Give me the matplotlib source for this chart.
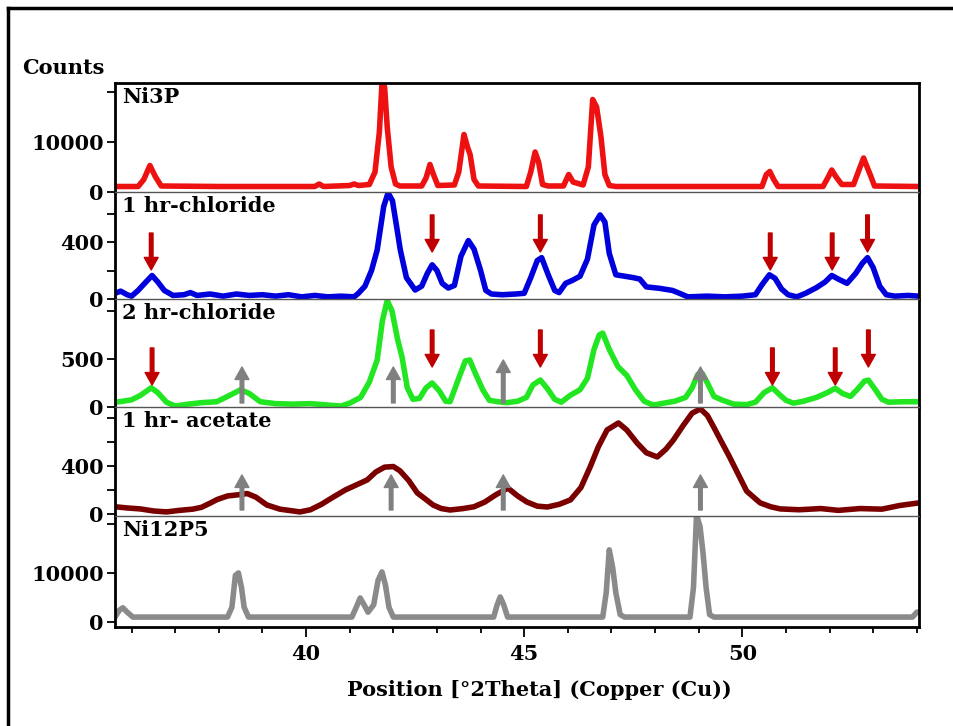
import matplotlib.pyplot as plt
from matplotlib.lines import Line2D

# --- data (2theta, counts) ---
ni3p_x = [35.62, 36.15, 36.28, 36.42, 36.55, 36.68, 38.0, 40.2, 40.3, 40.4, 41.0, 41.1, 41.2,
          41.45, 41.58, 41.68, 41.74, 41.8, 41.86, 41.95, 42.05, 42.15, 42.65, 42.75, 42.84,
          42.92, 43.02, 43.4, 43.5, 43.62, 43.7, 43.76, 43.85, 43.95, 45.05, 45.15, 45.25,
          45.33, 45.42, 45.55, 45.9, 46.02, 46.12, 46.35, 46.47, 46.57, 46.66, 46.76, 46.85,
          46.95, 47.1, 50.45, 50.55, 50.63, 50.72, 50.82, 51.85, 51.97, 52.05, 52.15, 52.28,
          52.55, 52.7, 52.78, 52.86, 52.93, 53.03, 54.05]
ni3p_y = [1100, 1100, 2500, 5300, 3000, 1200, 1100, 1100, 1600, 1100, 1300, 1600, 1300,
          1500, 4000, 12000, 21800, 21000, 13000, 5000, 1600, 1200, 1200, 2800, 5500,
          3500, 1300, 1400, 4000, 11500, 9000, 7500, 2500, 1200, 1100, 4000, 8000,
          6000, 1500, 1200, 1200, 3500, 2000, 1400, 5000, 18500, 17000, 11000, 3500,
          1300, 1100, 1100, 3500, 4100, 2500, 1100, 1100, 3000, 4400, 3000, 1500,
          1500, 5000, 6800, 5000, 3500, 1200, 1100]

chl1_x = [35.62, 35.75, 35.9, 36.0, 36.15, 36.3, 36.47, 36.6, 36.75, 36.95, 37.2, 37.35, 37.5,
          37.8, 38.1, 38.4, 38.7, 39.0, 39.3, 39.6, 39.9, 40.2, 40.5, 40.8, 41.1, 41.2, 41.35,
          41.5, 41.63, 41.78, 41.88, 41.98, 42.08, 42.16, 42.3, 42.5, 42.65, 42.78, 42.89,
          43.0, 43.12, 43.26, 43.4, 43.55, 43.72, 43.85, 44.0, 44.12, 44.25, 44.5, 44.8,
          45.0, 45.15, 45.3, 45.4, 45.55, 45.7, 45.8, 45.95, 46.1, 46.28, 46.45, 46.6,
          46.74, 46.85, 46.95, 47.1, 47.3, 47.5, 47.65, 47.8, 48.1, 48.4, 48.6, 48.75,
          49.2, 49.6, 50.0, 50.3, 50.45, 50.62, 50.75, 50.9, 51.05, 51.25, 51.45, 51.7,
          51.9, 52.05, 52.2, 52.4, 52.6, 52.75, 52.87, 53.0, 53.15, 53.3, 53.5, 53.8, 54.05]
chl1_y = [40, 55, 30, 20, 60, 110, 165, 120, 60, 25, 30, 45, 25,
          35, 20, 35, 25, 30, 20, 30, 15, 25, 15, 20, 15, 40, 90,
          200, 344, 650, 745, 690, 500, 344, 150, 63, 90, 180, 240,
          200, 110, 77, 95, 300, 410, 350, 200, 60, 35, 30, 35,
          40, 150, 270, 290, 170, 60, 45, 110, 130, 160, 280, 520,
          590, 540, 320, 170, 160, 150, 140, 85, 75, 60, 35, 15,
          20, 15, 20, 30, 100, 170, 145, 70, 30, 15, 40, 80,
          120, 165, 140, 110, 180, 250, 290, 220, 90, 30, 20, 25, 20]

chl2_x = [35.62, 35.8, 36.0, 36.2, 36.45, 36.6, 36.8, 37.0, 37.3, 37.6, 37.95, 38.2, 38.5,
          38.7, 38.95, 39.3, 39.7, 40.1, 40.5, 40.8, 41.0, 41.25, 41.45, 41.63, 41.75, 41.86,
          41.97, 42.1, 42.2, 42.32, 42.45, 42.6, 42.75, 42.89, 43.05, 43.2, 43.3, 43.5,
          43.65, 43.75, 43.9, 44.05, 44.2, 44.4, 44.6, 44.85, 45.05, 45.2, 45.37, 45.55,
          45.7, 45.85, 46.05, 46.28, 46.45, 46.6, 46.72, 46.8, 46.95, 47.15, 47.35, 47.55,
          47.75, 47.96, 48.2, 48.45, 48.7, 48.85, 48.98, 49.08, 49.2, 49.35, 49.55, 49.8,
          50.1, 50.3, 50.5, 50.69, 50.85, 51.0, 51.17, 51.4, 51.7, 51.95, 52.13, 52.3,
          52.48, 52.65, 52.8, 52.89, 53.05, 53.2, 53.35, 53.7, 54.05]
chl2_y = [50, 60, 75, 120, 200, 150, 50, 10, 30, 45, 55, 110, 180,
          140, 55, 35, 30, 35, 20, 10, 40, 100, 260, 490, 900, 1110,
          1000, 700, 520, 200, 80, 90, 200, 250, 170, 60, 55, 300,
          480, 490, 330, 180, 70, 55, 45, 60, 100, 230, 281, 180,
          80, 50, 120, 180, 300, 600, 750, 770, 600, 420, 330, 180,
          60, 20, 40, 60, 100, 200, 340, 350, 250, 110, 70, 30,
          25, 50, 150, 200, 130, 70, 40, 60, 100, 150, 195, 140,
          110, 190, 270, 280, 180, 80, 50, 55, 55]

ace_x = [35.62, 35.9, 36.2, 36.5, 36.8, 37.1, 37.4, 37.6, 37.8, 37.96, 38.2, 38.45, 38.65,
         38.85, 39.1, 39.4, 39.7, 39.86, 40.1, 40.35, 40.62, 40.9, 41.2, 41.4, 41.6, 41.8,
         42.0, 42.15, 42.35, 42.55, 42.75, 42.91, 43.1, 43.3, 43.6, 43.85, 44.1, 44.35,
         44.63, 44.85, 45.06, 45.3, 45.53, 45.8, 46.06, 46.3, 46.51, 46.7, 46.9, 47.16,
         47.35, 47.59, 47.8, 48.05, 48.25, 48.42, 48.65, 48.85, 49.04, 49.2, 49.35, 49.5,
         49.7, 49.89, 50.1, 50.41, 50.65, 50.87, 51.3, 51.8, 52.2, 52.7, 53.2, 53.6, 53.9, 54.05]
ace_y = [60, 50, 42, 25, 17, 30, 40, 55, 90, 120, 150, 160, 170,
         140, 75, 40, 25, 17, 35, 80, 140, 200, 250, 283, 350, 390,
         395, 360, 280, 175, 120, 75, 45, 33, 45, 60, 100, 160,
         215, 150, 100, 65, 58, 80, 117, 220, 390, 560, 700, 758,
         700, 590, 510, 475, 540, 616, 740, 840, 875, 820, 720, 616,
         480, 342, 190, 92, 60, 42, 35, 45, 30, 45, 40, 70, 85, 92]

ni12_x = [35.62, 35.72, 35.8, 35.9, 36.03, 38.2, 38.3, 38.38, 38.45, 38.52, 38.58, 38.68,
          41.05, 41.15, 41.24, 41.33, 41.42, 41.55, 41.65, 41.74, 41.82, 41.9, 42.0, 44.3,
          44.38, 44.45, 44.53, 44.62, 46.8, 46.88, 46.95, 47.03, 47.1, 47.2, 47.3, 48.8,
          48.88, 48.95, 49.03, 49.1, 49.17, 49.25, 49.35, 53.9, 54.0, 54.05]
ni12_y = [1000, 2400, 2900, 2000, 1000, 1000, 3000, 9500, 10000, 7000, 3000, 1000,
          1000, 3000, 4900, 3500, 2000, 3500, 8500, 10200, 7500, 3000, 1000, 1000,
          3500, 5100, 3500, 1000, 1000, 6000, 14700, 11000, 6000, 1500, 1000, 1000,
          7000, 21800, 19500, 14000, 7000, 1500, 1000, 1000, 2000, 2000]

# arrows: x, tail y, head y
chl1_red_x = [36.45, 42.89, 45.37, 50.64, 52.06, 52.87]
chl1_red_tail = [463, 590, 590, 463, 463, 590]
chl1_red_head = [204, 330, 330, 204, 204, 330]
chl2_red_x = [36.47, 42.89, 45.37, 50.69, 52.13, 52.89]
chl2_red_tail = [615, 802, 802, 615, 615, 802]
chl2_red_head = [229, 417, 417, 229, 229, 417]
chl2_gray_x = [38.53, 42.0, 44.52, 49.04]
chl2_gray_tail = [42, 42, 42, 42]
chl2_gray_head = [417, 417, 490, 417]
ace_gray_x = [38.53, 41.95, 44.52, 49.04]
ace_gray_tail = [33, 33, 33, 33]
ace_gray_head = [325, 325, 325, 325]

names = ['Ni3P', '1 hr-chloride', '2 hr-chloride', '1 hr- acetate', 'Ni12P5']
colors = ['#ee1111', '#0000dd', '#22e622', '#7a0000', '#8a8a8a']
series = [(ni3p_x, ni3p_y), (chl1_x, chl1_y), (chl2_x, chl2_y), (ace_x, ace_y), (ni12_x, ni12_y)]
ylims = [(0, 21800), (0, 751), (0, 1125), (-17, 891), (-1020, 21600)]
yticks = [[0, 10000, 20000], [0, 200, 400, 600], [0, 500, 1000], [0, 200, 400, 600, 800], [0, 10000, 20000]]
ylabels = [['0', '10000', ''], ['0', '', '400', ''], ['0', '500', ''], ['0', '', '400', '', ''], ['0', '10000', '']]

plt.rcParams['font.family'] = 'DejaVu Serif'
plt.rcParams['font.weight'] = 'bold'

fig = plt.figure(figsize=(9.54, 7.26), dpi=100)
gs = fig.add_gridspec(5, 1, height_ratios=[109, 107, 108, 109, 111], hspace=0,
                      left=115/954, right=919/954, top=1-83/726, bottom=1-627/726)
axes = [fig.add_subplot(gs[i]) for i in range(5)]

for i, ax in enumerate(axes):
    x, y = series[i]
    ax.plot(x, y, color=colors[i], lw=4, solid_joinstyle='round')
    ax.set_xlim(35.62, 54.05)
    ax.set_ylim(*ylims[i])
    ax.set_yticks(yticks[i])
    ax.set_yticklabels(ylabels[i])
    ax.tick_params(axis='y', direction='out', length=6, width=1.3, labelsize=15, pad=2)
    ax.text(0.009, 0.96, names[i], transform=ax.transAxes, ha='left', va='top', fontsize=15)
    for s in ['left', 'right']:
        ax.spines[s].set_linewidth(2)
    ax.spines['top'].set_linewidth(2 if i == 0 else 1)
    ax.spines['top'].set_color('black' if i == 0 else '#555555')
    ax.spines['bottom'].set_visible(i == 4)
    ax.spines['bottom'].set_linewidth(2)
    if i < 4:
        ax.tick_params(axis='x', bottom=False, labelbottom=False)

def arrows(ax, xs, tails, heads, color):
    for x, t, h in zip(xs, tails, heads):
        ax.annotate('', xy=(x, h), xytext=(x, t),
                    arrowprops=dict(facecolor=color, edgecolor=color, width=2.6,
                                    headwidth=10, headlength=9, shrink=0))

arrows(axes[1], chl1_red_x, chl1_red_tail, chl1_red_head, '#c00000')
arrows(axes[2], chl2_red_x, chl2_red_tail, chl2_red_head, '#c00000')
arrows(axes[2], chl2_gray_x, chl2_gray_tail, chl2_gray_head, '#808080')
arrows(axes[3], ace_gray_x, ace_gray_tail, ace_gray_head, '#808080')

bx = axes[4]
bx.set_xticks([40, 45, 50])
bx.set_xticks(range(36, 55), minor=True)
bx.tick_params(axis='x', which='major', direction='out', length=7, width=1.3, labelsize=15, pad=5)
bx.tick_params(axis='x', which='minor', direction='out', length=4, width=1.3)

fig.text(22/954, 1-68/726, 'Counts', ha='left', va='center', fontsize=15)
fig.text(539/954, 1-690/726, 'Position [°2Theta] (Copper (Cu))', ha='center', va='center', fontsize=15)

# outer frame of the picture
fig.add_artist(Line2D([8/954, 1], [1-8/726, 1-8/726], color='black', lw=2.5, transform=fig.transFigure))
fig.add_artist(Line2D([8/954, 8/954], [0, 1-8/726], color='black', lw=2.5, transform=fig.transFigure))

fig.savefig('out.png', dpi=100)
